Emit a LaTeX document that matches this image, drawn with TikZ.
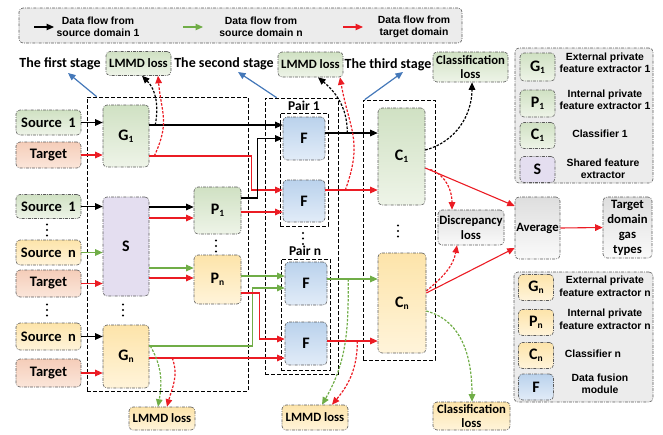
\documentclass[tikz,border=0pt]{standalone}
\usepackage{fontspec}
\setmainfont{Carlito}
\newfontfamily\lgf{Liberation Sans}
\usetikzlibrary{arrows.meta,calc}
\definecolor{bd}{RGB}{90,90,90}
\definecolor{gT}{RGB}{208,225,195}
\definecolor{gB}{RGB}{238,244,232}
\definecolor{pT}{RGB}{245,205,185}
\definecolor{pB}{RGB}{251,230,218}
\definecolor{yT}{RGB}{253,228,170}
\definecolor{yB}{RGB}{255,244,218}
\definecolor{lav}{RGB}{228,222,240}
\definecolor{bT}{RGB}{186,210,236}
\definecolor{bB}{RGB}{226,236,248}
\definecolor{wT}{RGB}{222,222,222}
\definecolor{wB}{RGB}{250,250,250}
\definecolor{lg}{RGB}{236,236,236}
\definecolor{cr}{RGB}{235,28,36}
\definecolor{cg}{RGB}{112,173,71}
\definecolor{cb}{RGB}{68,120,185}
\newcommand{\sbs}[1]{\raisebox{-0.3ex}{\fontsize{9.5}{10}\selectfont #1}}
\begin{document}
\begin{tikzpicture}[x=1pt,y=-1pt,
  bx/.style={draw=bd, line width=0.6pt, dash pattern=on 3pt off 1.2pt on 0.8pt off 1.2pt,
    rounded corners=4pt, inner sep=0pt, align=center,
    font=\bfseries\fontsize{12.7}{15}\selectfont},
  gbx/.style={bx, top color=gT, bottom color=gB},
  pbx/.style={bx, top color=pT, bottom color=pB},
  ybx/.style={bx, top color=yT, bottom color=yB},
  lbx/.style={bx, fill=lav},
  fbx/.style={bx, top color=bT, bottom color=bB},
  wbx/.style={bx, top color=wT, bottom color=wB},
  sz/.style 2 args={minimum width=#1, minimum height=#2},
  bigl/.style={font=\bfseries\fontsize{16}{16}\selectfont},
  srcf/.style={font=\bfseries\fontsize{14.5}{15}\selectfont},
  stf/.style={font=\bfseries\fontsize{14}{15}\selectfont, inner sep=0pt},
  prf/.style={font=\bfseries\fontsize{13.5}{14}\selectfont, inner sep=0pt},
  lgt/.style={font=\lgf\bfseries\fontsize{10.4}{12.5}\selectfont, align=center, inner sep=0pt},
  clf/.style={font=\bfseries\fontsize{12.7}{13.5}\selectfont},
  stg/.style={draw=black, line width=0.7pt, dash pattern=on 4pt off 2pt, inner sep=0pt},
  ar/.style={line width=1.1pt, -{Triangle[length=7.5pt,width=6.5pt]}},
  blk/.style={ar, draw=black},
  rd/.style={ar, draw=cr},
  gn/.style={ar, draw=cg},
  bl/.style={ar, draw=cb, line width=1.2pt},
  dsh/.style={dash pattern=on 2.5pt off 1.5pt, line width=1.2pt}
]
\useasboundingbox (0,0) rectangle (663,434);

% ---------- top legend
\node[bx, fill=lg, sz={443pt}{35pt}] (leg0) at (240.5,25.5) {};
\coordinate (k1s) at (34,27); \coordinate (k1e) at (54,27);
\coordinate (k2s) at (183,27); \coordinate (k2e) at (203,27);
\coordinate (k3s) at (343,27); \coordinate (k3e) at (363,27);
\draw[blk] (k1s) -- (k1e);
\draw[gn] (k2s) -- (k2e);
\draw[rd] (k3s) -- (k3e);
\node[lgt] (k1t) at (98,27) {Data flow from\\source domain 1};
\node[lgt] (k2t) at (261,27) {Data flow from\\source domain n};
\node[lgt] (k3t) at (414,27) {Data flow from\\target domain};

% ---------- stage boxes
\node[stg, sz={161pt}{294pt}] (sg1) at (167.5,244) {};
\node[stg, sz={73pt}{276pt}] (sg2) at (301.5,236) {};
\node[stg, sz={72pt}{260pt}] (sg3) at (399,230) {};
\node[stg, sz={48pt}{113pt}] (pr1) at (304,169.5) {};
\node[stg, sz={49pt}{111pt}] (prn) at (305.5,314.5) {};
\node[prf] (pl1) at (304,106) {Pair 1};
\node[prf] (pln) at (305,251) {Pair n};

% ---------- stage labels and losses
\node[stf] (st1) at (60,64) {The first stage};
\node[stf] (st2) at (224,64) {The second stage};
\node[stf] (st3) at (388,65) {The third stage};
\node[gbx, sz={65pt}{24pt}] (lm1) at (138.5,63.5) {LMMD loss};
\node[gbx, sz={65pt}{25pt}] (lm2) at (310.5,64.5) {LMMD loss};
\node[gbx, clf, sz={75pt}{30pt}] (cl1) at (470.5,67) {Classification\\loss};
\node[ybx, sz={66pt}{23pt}] (lm3) at (162,418.5) {LMMD loss};
\node[ybx, sz={66pt}{25pt}] (lm4) at (315,417.5) {LMMD loss};
\node[ybx, clf, sz={77pt}{28pt}] (cl2) at (471.5,416) {Classification\\loss};

% ---------- inputs
\node[gbx, srcf, sz={65pt}{25pt}] (s1a) at (48.5,122.5) {Source~~1};
\node[pbx, srcf, sz={65pt}{26pt}] (ta) at (48.5,155) {Target};
\node[gbx, srcf, sz={65pt}{24pt}] (s1b) at (48.5,206.5) {Source~~1};
\node[ybx, srcf, sz={65pt}{25pt}] (sna) at (48.5,252.5) {Source~~n};
\node[pbx, srcf, sz={65pt}{27pt}] (tb) at (48.5,283.5) {Target};
\node[ybx, srcf, sz={65pt}{27pt}] (snb) at (48.5,336.5) {Source~~n};
\node[pbx, srcf, sz={65pt}{28pt}] (tc) at (48.5,373) {Target};

% ---------- modules
\node[gbx, bigl, sz={46pt}{62pt}] (G1) at (126,136) {G\sbs{1}};
\node[lbx, bigl, sz={46pt}{99pt}] (S) at (126,246.5) {S};
\node[ybx, bigl, sz={46pt}{63pt}] (Gn) at (126,356.5) {G\sbs{n}};
\node[gbx, bigl, sz={47pt}{47pt}] (P1) at (217.5,210.5) {P\sbs{1}};
\node[ybx, bigl, sz={47pt}{49pt}] (Pn) at (217.5,279.5) {P\sbs{n}};
\node[fbx, bigl, sz={42pt}{43pt}] (F1) at (304,138.5) {F};
\node[fbx, bigl, sz={42pt}{42pt}] (F1b) at (304,201) {F};
\node[fbx, bigl, sz={42pt}{43pt}] (Fn) at (306,283.5) {F};
\node[fbx, bigl, sz={42pt}{43pt}] (Fnb) at (306,343.5) {F};
\node[gbx, bigl, sz={47pt}{97pt}] (C1) at (401.5,156.5) {C\sbs{1}};
\node[ybx, bigl, sz={48pt}{100pt}] (Cn) at (402,303) {C\sbs{n}};
\node[wbx, sz={66pt}{35pt}] (dis) at (471,227.5) {Discrepancy\\loss};
\node[wbx, sz={45pt}{62pt}] (avg) at (537.5,228) {Average};
\node[wbx, sz={49pt}{61pt}] (tgt) at (627.5,227.5) {Target\\domain\\gas\\types};

% ---------- right legends
\node[bx, fill=lg, sz={138pt}{135pt}] (lg1) at (584,115.5) {};
\node[gbx, bigl, sz={35pt}{28pt}] (kG1) at (537.5,67) {G\sbs{1}};
\node[lgt] (kG1t) at (605,63) {External private\\feature extractor 1};
\node[gbx, bigl, sz={35pt}{27pt}] (kP1) at (537.5,103.5) {P\sbs{1}};
\node[lgt] (kP1t) at (605,100) {Internal private\\feature extractor 1};
\node[gbx, bigl, sz={35pt}{26pt}] (kC1) at (537.5,135.5) {C\sbs{1}};
\node[lgt] (kC1t) at (600,134) {Classifier 1};
\node[lbx, bigl, sz={35pt}{26pt}] (kS) at (537.5,169.5) {S};
\node[lgt] (kSt) at (603,169) {Shared feature\\extractor};

\node[bx, fill=lg, sz={139pt}{130pt}] (lg2) at (583.5,337) {};
\node[ybx, bigl, sz={35pt}{26pt}] (kGn) at (536,287.5) {G\sbs{n}};
\node[lgt] (kGnt) at (605,286.5) {External private\\feature extractor n};
\node[ybx, bigl, sz={35pt}{26pt}] (kPn) at (536,322.5) {P\sbs{n}};
\node[lgt] (kPnt) at (605,319.5) {Internal private\\feature extractor n};
\node[ybx, bigl, sz={35pt}{26pt}] (kCn) at (536,355.5) {C\sbs{n}};
\node[lgt] (kCnt) at (593,354) {Classifier n};
\node[fbx, bigl, sz={35pt}{26pt}] (kF) at (536,387) {F};
\node[lgt] (kFt) at (600,384) {Data fusion\\module};

% ---------- input arrows
\draw[blk] (s1a.east) -- (s1a.east -| G1.west);
\draw[rd] (ta.east) -- (ta.east -| G1.west);
\draw[blk] (s1b.east) -- (s1b.east -| S.west);
\draw[gn] (sna.east) -- (sna.east -| S.west);
\draw[rd] (tb.east) -- (tb.east -| S.west);
\draw[blk] (snb.east) -- (snb.east -| Gn.west);
\draw[rd] (tc.east) -- (tc.east -| Gn.west);

% ---------- S to P
\draw[blk] ([yshift=3.5pt]S.east |- P1.west) -- ([yshift=3.5pt]P1.west);
\draw[rd] ([yshift=-7.5pt]S.east |- P1.west) -- ([yshift=-7.5pt]P1.west);
\draw[gn] ([yshift=11.5pt]S.east |- Pn.west) -- ([yshift=11.5pt]Pn.west);
\draw[rd] ([yshift=1.5pt]S.east |- Pn.west) -- ([yshift=1.5pt]Pn.west);

% ---------- to fusion modules
\draw[blk] ([yshift=13.5pt]G1.east |- F1.west) -- ([yshift=13.5pt]F1.west);
\draw[rd] ([yshift=-20pt]G1.east) -| ([xshift=-31pt,yshift=11pt]F1b.west) -- ([yshift=11pt]F1b.west);
\draw[blk] ([yshift=12.5pt]P1.east) -| ([xshift=-25pt]F1.west) -- (F1.west);
\draw[rd] ([yshift=-11pt]P1.east |- F1b.west) -- ([yshift=-11pt]F1b.west);
\draw[gn] ([yshift=7.5pt]Pn.east |- Fn.west) -- ([yshift=7.5pt]Fn.west);
\draw[gn] ([yshift=10.5pt]Gn.east) -| ([xshift=-32pt,yshift=-4.5pt]Fn.west) -- ([yshift=-4.5pt]Fn.west);
\draw[rd] ([yshift=-13.5pt]Pn.east) -| ([xshift=-25pt,yshift=4.5pt]Fnb.west) -- ([yshift=4.5pt]Fnb.west);
\draw[rd] ([yshift=-14.5pt]Fnb.west -| Gn.east) -- ([yshift=-14.5pt]Fnb.west);

% ---------- to classifiers
\draw[blk] ([yshift=5.5pt]F1.east) -- ([yshift=5.5pt]F1.east -| C1.west);
\draw[rd] ([yshift=11pt]F1b.east) -- ([yshift=11pt]F1b.east -| C1.west);
\draw[gn] ([yshift=4.5pt]Fn.east) -- ([yshift=4.5pt]Fn.east -| Cn.west);
\draw[rd] ([yshift=2.5pt]Fnb.east) -- ([yshift=2.5pt]Fnb.east -| Cn.west);

% ---------- to average
\draw[rd] ([yshift=-11.5pt]C1.east) -- ([yshift=22pt]avg.west);
\draw[rd] ([yshift=10pt]Cn.east) -- ([yshift=-20pt]avg.west);
\draw[rd] (avg.east) -- (tgt.west);

% ---------- dashed loss arrows
\draw[blk,dsh] ([xshift=6pt,yshift=11pt]G1.east) to[out=80,in=-45] ([xshift=3.5pt]lm1.south);
\draw[rd,dsh] ([xshift=5pt,yshift=-20pt]G1.east) to[out=65,in=-85,looseness=1.2] ([xshift=19.5pt]lm1.south);
\draw[blk,dsh] ([xshift=22pt,yshift=5.5pt]F1.east) to[out=90,in=-40] ([xshift=7.5pt]lm2.south);
\draw[rd,dsh] ([xshift=20pt,yshift=11pt]F1b.east) to[out=70,in=-80,looseness=1.2] ([xshift=29.5pt]lm2.south);
\draw[gn,dsh] ([xshift=1pt,yshift=10.5pt]Gn.east) to[out=-60,in=80] ([xshift=-4pt]lm3.north);
\draw[rd,dsh] ([xshift=23pt,yshift=-1.5pt]Gn.east) to[out=-70,in=75] ([xshift=5pt]lm3.north);
\draw[gn,dsh] ([xshift=21pt,yshift=4.5pt]Fn.east) to[out=-90,in=60] ([xshift=7pt]lm4.north);
\draw[rd,dsh] ([xshift=30pt,yshift=2.5pt]Fnb.east) to[out=-90,in=50] ([xshift=17pt]lm4.north);
\draw[blk,dsh] ([yshift=6.5pt]C1.east) to[out=15,in=-90] ([xshift=1.5pt]cl1.south);
\draw[rd,dsh] ([xshift=5pt,yshift=-13pt]C1.east) to[out=-20,in=90] ([xshift=-19pt]dis.north);
\draw[rd,dsh] ([yshift=12pt]Cn.east) to[out=40,in=-100] ([xshift=-14pt]dis.south);
\draw[gn,dsh] ([yshift=-8pt]Cn.east) to[out=-15,in=90] ([xshift=0.5pt]cl2.north);

% ---------- blue stage arrows
\draw[bl] ([xshift=10pt]sg1.north west) -- ([xshift=8pt,yshift=-9pt]st1.center);
\draw[bl] ([xshift=12pt]sg2.north west) -- ([xshift=14pt,yshift=-8pt]st2.center);
\draw[bl] ([xshift=2pt]sg3.north west) -- ([xshift=15pt,yshift=-7pt]st3.center);

% ---------- dots
\foreach \px/\py in {47/230, 47/310, 123/310, 216/246, 303/238.5, 398/231}{
  \foreach \d in {-5.5,0,5.5}{\fill (\px,{\py+\d}) circle (1.1pt);}
}
\end{tikzpicture}
\end{document}
